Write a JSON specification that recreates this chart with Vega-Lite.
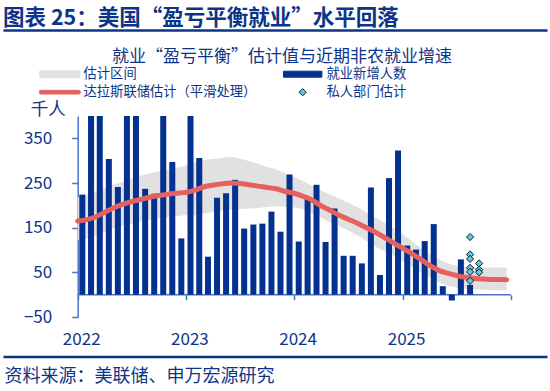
{
  "$schema": "https://vega.github.io/schema/vega-lite/v6.json",
  "padding": {"left": 3, "right": 3, "top": 7, "bottom": 2},
  "background": "white",
  "config": {
    "font": "Noto Sans CJK SC",
    "view": {"stroke": null}
  },
  "title": {"text": "图表 25：美国“盈亏平衡就业”水平回落", "anchor": "start", "fontSize": 21.5, "fontWeight": "bold", "color": "#0C3589", "offset": 1, "frame": "bounds"},
  "width": 544,
  "height": 201,
  "datasets": {
    "band": [
      {"date": "2022-01-01", "upper": 218, "lower": 122},
      {"date": "2022-02-01", "upper": 224, "lower": 126},
      {"date": "2022-03-01", "upper": 231, "lower": 132},
      {"date": "2022-04-01", "upper": 238, "lower": 140},
      {"date": "2022-05-01", "upper": 246, "lower": 148},
      {"date": "2022-06-01", "upper": 253, "lower": 154},
      {"date": "2022-07-01", "upper": 260, "lower": 159},
      {"date": "2022-08-01", "upper": 266, "lower": 164},
      {"date": "2022-09-01", "upper": 271, "lower": 167},
      {"date": "2022-10-01", "upper": 276, "lower": 171},
      {"date": "2022-11-01", "upper": 280, "lower": 174},
      {"date": "2022-12-01", "upper": 284, "lower": 176},
      {"date": "2023-01-01", "upper": 289, "lower": 178},
      {"date": "2023-02-01", "upper": 296, "lower": 178},
      {"date": "2023-03-01", "upper": 301, "lower": 181},
      {"date": "2023-04-01", "upper": 304, "lower": 185},
      {"date": "2023-05-01", "upper": 306, "lower": 188},
      {"date": "2023-06-01", "upper": 308, "lower": 190},
      {"date": "2023-07-01", "upper": 305, "lower": 192},
      {"date": "2023-08-01", "upper": 299, "lower": 193},
      {"date": "2023-09-01", "upper": 293, "lower": 194},
      {"date": "2023-10-01", "upper": 286, "lower": 196},
      {"date": "2023-11-01", "upper": 280, "lower": 198},
      {"date": "2023-12-01", "upper": 272, "lower": 197},
      {"date": "2024-01-01", "upper": 264, "lower": 195},
      {"date": "2024-02-01", "upper": 254, "lower": 191},
      {"date": "2024-03-01", "upper": 244, "lower": 182},
      {"date": "2024-04-01", "upper": 233, "lower": 172},
      {"date": "2024-05-01", "upper": 224, "lower": 162},
      {"date": "2024-06-01", "upper": 215, "lower": 154},
      {"date": "2024-07-01", "upper": 206, "lower": 144},
      {"date": "2024-08-01", "upper": 196, "lower": 133},
      {"date": "2024-09-01", "upper": 184, "lower": 120},
      {"date": "2024-10-01", "upper": 172, "lower": 108},
      {"date": "2024-11-01", "upper": 161, "lower": 97},
      {"date": "2024-12-01", "upper": 148, "lower": 87},
      {"date": "2025-01-01", "upper": 135, "lower": 75},
      {"date": "2025-02-01", "upper": 120, "lower": 62},
      {"date": "2025-03-01", "upper": 105, "lower": 50},
      {"date": "2025-04-01", "upper": 92, "lower": 40},
      {"date": "2025-05-01", "upper": 80, "lower": 28},
      {"date": "2025-06-01", "upper": 71, "lower": 21},
      {"date": "2025-07-01", "upper": 65, "lower": 16},
      {"date": "2025-08-01", "upper": 62, "lower": 13},
      {"date": "2025-09-01", "upper": 61, "lower": 12},
      {"date": "2025-10-01", "upper": 61, "lower": 11},
      {"date": "2025-11-01", "upper": 61, "lower": 10},
      {"date": "2025-12-01", "upper": 61, "lower": 10},
      {"date": "2025-12-18", "upper": 61, "lower": 10}
    ],
    "jobs": [
      {"date": "2022-01-01", "value": 224},
      {"date": "2022-02-01", "value": 710},
      {"date": "2022-03-01", "value": 430},
      {"date": "2022-04-01", "value": 304},
      {"date": "2022-05-01", "value": 241},
      {"date": "2022-06-01", "value": 420},
      {"date": "2022-07-01", "value": 570},
      {"date": "2022-08-01", "value": 237},
      {"date": "2022-09-01", "value": 226},
      {"date": "2022-10-01", "value": 420},
      {"date": "2022-11-01", "value": 297},
      {"date": "2022-12-01", "value": 126},
      {"date": "2023-01-01", "value": 480},
      {"date": "2023-02-01", "value": 306},
      {"date": "2023-03-01", "value": 85},
      {"date": "2023-04-01", "value": 217},
      {"date": "2023-05-01", "value": 227},
      {"date": "2023-06-01", "value": 257},
      {"date": "2023-07-01", "value": 148},
      {"date": "2023-08-01", "value": 157},
      {"date": "2023-09-01", "value": 159},
      {"date": "2023-10-01", "value": 186},
      {"date": "2023-11-01", "value": 141},
      {"date": "2023-12-01", "value": 269},
      {"date": "2024-01-01", "value": 119},
      {"date": "2024-02-01", "value": 217},
      {"date": "2024-03-01", "value": 246},
      {"date": "2024-04-01", "value": 118},
      {"date": "2024-05-01", "value": 193},
      {"date": "2024-06-01", "value": 87},
      {"date": "2024-07-01", "value": 87},
      {"date": "2024-08-01", "value": 70},
      {"date": "2024-09-01", "value": 240},
      {"date": "2024-10-01", "value": 44},
      {"date": "2024-11-01", "value": 261},
      {"date": "2024-12-01", "value": 323},
      {"date": "2025-01-01", "value": 110},
      {"date": "2025-02-01", "value": 101},
      {"date": "2025-03-01", "value": 120},
      {"date": "2025-04-01", "value": 158},
      {"date": "2025-05-01", "value": 19},
      {"date": "2025-06-01", "value": -13},
      {"date": "2025-07-01", "value": 79},
      {"date": "2025-08-01", "value": 22}
    ],
    "dallas": [
      {"date": "2022-01-01", "value": 165},
      {"date": "2022-02-01", "value": 168},
      {"date": "2022-03-01", "value": 174},
      {"date": "2022-04-01", "value": 184},
      {"date": "2022-05-01", "value": 194},
      {"date": "2022-06-01", "value": 202},
      {"date": "2022-07-01", "value": 208},
      {"date": "2022-08-01", "value": 213},
      {"date": "2022-09-01", "value": 218},
      {"date": "2022-10-01", "value": 222},
      {"date": "2022-11-01", "value": 225},
      {"date": "2022-12-01", "value": 227},
      {"date": "2023-01-01", "value": 229},
      {"date": "2023-02-01", "value": 234},
      {"date": "2023-03-01", "value": 241},
      {"date": "2023-04-01", "value": 245},
      {"date": "2023-05-01", "value": 248},
      {"date": "2023-06-01", "value": 250},
      {"date": "2023-07-01", "value": 249},
      {"date": "2023-08-01", "value": 246},
      {"date": "2023-09-01", "value": 243},
      {"date": "2023-10-01", "value": 240},
      {"date": "2023-11-01", "value": 237},
      {"date": "2023-12-01", "value": 231},
      {"date": "2024-01-01", "value": 227},
      {"date": "2024-02-01", "value": 220},
      {"date": "2024-03-01", "value": 212},
      {"date": "2024-04-01", "value": 199},
      {"date": "2024-05-01", "value": 189},
      {"date": "2024-06-01", "value": 178},
      {"date": "2024-07-01", "value": 169},
      {"date": "2024-08-01", "value": 160},
      {"date": "2024-09-01", "value": 150},
      {"date": "2024-10-01", "value": 140},
      {"date": "2024-11-01", "value": 128},
      {"date": "2024-12-01", "value": 116},
      {"date": "2025-01-01", "value": 104},
      {"date": "2025-02-01", "value": 92},
      {"date": "2025-03-01", "value": 80},
      {"date": "2025-04-01", "value": 66},
      {"date": "2025-05-01", "value": 55},
      {"date": "2025-06-01", "value": 48},
      {"date": "2025-07-01", "value": 43},
      {"date": "2025-08-01", "value": 39},
      {"date": "2025-09-01", "value": 36},
      {"date": "2025-10-01", "value": 35},
      {"date": "2025-11-01", "value": 34},
      {"date": "2025-12-01", "value": 34},
      {"date": "2025-12-18", "value": 33.5}
    ],
    "private": [
      {"date": "2025-08-01", "value": 129, "series": "私人部门估计"},
      {"date": "2025-08-01", "value": 90, "series": "私人部门估计"},
      {"date": "2025-08-01", "value": 80, "series": "私人部门估计"},
      {"date": "2025-08-01", "value": 60, "series": "私人部门估计"},
      {"date": "2025-08-01", "value": 51, "series": "私人部门估计"},
      {"date": "2025-08-01", "value": 31, "series": "私人部门估计"},
      {"date": "2025-09-01", "value": 70, "series": "私人部门估计"},
      {"date": "2025-09-01", "value": 56, "series": "私人部门估计"},
      {"date": "2025-09-01", "value": 50, "series": "私人部门估计"}
    ],
    "single": [{}]
  },
  "resolve": {"axis": {"x": "independent"}},
  "layer": [
    {
      "data": {"name": "band"},
      "mark": {"type": "area", "color": "#E1E1E1", "interpolate": "monotone"},
      "encoding": {
        "x": {
          "field": "date", "type": "temporal",
          "scale": {"type": "utc", "domain": [{"year": 2021, "month": 4, "date": 24, "utc": true}, {"year": 2026, "month": 5, "date": 3, "utc": true}]},
          "axis": {
            "values": [{"year": 2022, "month": 1, "date": 1, "utc": true}, {"year": 2023, "month": 1, "date": 1, "utc": true}, {"year": 2024, "month": 1, "date": 1, "utc": true}, {"year": 2025, "month": 1, "date": 1, "utc": true}, {"year": 2026, "month": 1, "date": 1, "utc": true}],
            "labelExpr": "utcyear(datum.value) >= 2026 ? '' : '' + utcyear(datum.value)",
            "domain": false,
            "offset": -22.3,
            "tickSize": 5,
            "labelPadding": 32,
            "labelOffset": 3.5,
            "labelFontSize": 17,
            "labelColor": "#0C3589",
            "tickColor": "#4B73C6",
            "tickWidth": 1.5,
            "grid": false,
            "title": null,
            "labelFlush": false,
            "labelOverlap": false
          }
        },
        "y": {
          "field": "upper", "type": "quantitative",
          "scale": {"domain": [-50, 400], "nice": false, "zero": false},
          "axis": {
            "values": [-50, 50, 150, 250, 350],
            "offset": -74.7,
            "tickSize": 6,
            "labelPadding": 20,
            "labelFontSize": 17,
            "labelColor": "#0C3589",
            "domainColor": "#4B73C6",
            "tickColor": "#4B73C6",
            "domainWidth": 1.5,
            "tickWidth": 1.5,
            "grid": false,
            "title": "千人",
            "titleAngle": 0,
            "titleX": -30,
            "titleY": -7,
            "titleAlign": "center",
            "titleBaseline": "middle",
            "titleFontSize": 17.5,
            "titleFontWeight": "normal",
            "titleColor": "#0C3589"
          }
        },
        "y2": {"field": "lower"}
      }
    },
    {
      "data": {"name": "single"},
      "mark": {"type": "rule", "color": "#4B73C6", "strokeWidth": 1.5},
      "encoding": {
        "x": {
          "datum": {"year": 2022, "month": 1, "date": 1, "utc": true}, "type": "temporal",
          "axis": {
            "orient": "bottom",
            "offset": 39.4,
            "domain": true,
            "domainColor": "#0C3589",
            "domainWidth": 2.5,
            "ticks": false,
            "labels": false,
            "grid": false,
            "title": "资料来源：美联储、申万宏源研究",
            "titleX": 1,
            "titleY": 20,
            "titleAlign": "left",
            "titleAnchor": "start",
            "titleBaseline": "middle",
            "titleFontSize": 18,
            "titleFontWeight": "normal",
            "titleColor": "#0C3589",
            "titleLimit": 1000
          }
        },
        "x2": {"datum": {"year": 2026, "month": 1, "date": 1, "utc": true}},
        "y": {"datum": 0, "type": "quantitative"}
      }
    },
    {
      "data": {"name": "jobs"},
      "mark": {"type": "bar", "color": "#023190", "width": 6, "clip": true},
      "encoding": {
        "x": {"field": "date", "type": "temporal", "timeUnit": "utcyearmonth", "bandPosition": 0.5, "axis": null},
        "y": {"field": "value", "type": "quantitative"}
      }
    },
    {
      "data": {"name": "dallas"},
      "mark": {"type": "line", "color": "#E5605E", "strokeWidth": 5, "interpolate": "monotone", "strokeCap": "round"},
      "encoding": {
        "x": {
          "field": "date", "type": "temporal",
          "axis": {
            "orient": "top",
            "offset": 86,
            "domain": true,
            "domainColor": "#0C3589",
            "domainWidth": 2.5,
            "ticks": false,
            "labels": false,
            "grid": false,
            "title": "就业“盈亏平衡”估计值与近期非农就业增速",
            "titleX": 278.5,
            "titleY": 26,
            "titleAlign": "center",
            "titleBaseline": "middle",
            "titleFontSize": 17,
            "titleFontWeight": "normal",
            "titleColor": "#0C3589",
            "titleLimit": 1000
          }
        },
        "y": {"field": "value", "type": "quantitative"}
      }
    },
    {
      "data": {"name": "private"},
      "mark": {"type": "point", "filled": true, "size": 1600, "strokeWidth": 1, "opacity": 1},
      "encoding": {
        "x": {"field": "date", "type": "temporal", "timeUnit": "utcyearmonth", "bandPosition": 0.5, "axis": null},
        "y": {"field": "value", "type": "quantitative"},
        "fill": {
          "field": "series", "type": "nominal",
          "scale": {"domain": ["估计区间", "达拉斯联储估计（平滑处理）", "就业新增人数", "私人部门估计"], "range": ["#E1E1E1", "#E5605E", "#023190", "#5CC6EA"]},
          "legend": {"title": null, "orient": "none", "legendX": 36.2, "legendY": -50.8, "columns": 2, "columnPadding": 25, "rowPadding": 0, "clipHeight": 18, "symbolSize": 1600, "labelFontSize": 13.3, "labelColor": "#0C3589", "labelOffset": 3.3, "padding": 0, "symbolStrokeWidth": 1, "labelLimit": 0}
        },
        "stroke": {
          "field": "series", "type": "nominal",
          "scale": {"domain": ["估计区间", "达拉斯联储估计（平滑处理）", "就业新增人数", "私人部门估计"], "range": ["#E1E1E1", "#E5605E", "#023190", "#1A1A1A"]},
          "legend": {"title": null, "orient": "none", "legendX": 36.2, "legendY": -50.8, "columns": 2, "columnPadding": 25, "rowPadding": 0, "clipHeight": 18, "symbolSize": 1600, "labelFontSize": 13.3, "labelColor": "#0C3589", "labelOffset": 3.3, "padding": 0, "symbolStrokeWidth": 1, "labelLimit": 0}
        },
        "shape": {
          "field": "series", "type": "nominal",
          "scale": {"domain": ["估计区间", "达拉斯联储估计（平滑处理）", "就业新增人数", "私人部门估计"], "range": ["M-1,-0.175H1V0.175H-1Z", "M-0.95,-0.09H0.95A0.09,0.09 0 0 1 0.95,0.09H-0.95A0.09,0.09 0 0 1 -0.95,-0.09Z", "M-0.96,-0.15H0.96V0.15H-0.96Z", "M0,-0.18L0.18,0L0,0.18L-0.18,0Z"]},
          "legend": {"title": null, "orient": "none", "legendX": 36.2, "legendY": -50.8, "columns": 2, "columnPadding": 25, "rowPadding": 0, "clipHeight": 18, "symbolSize": 1600, "labelFontSize": 13.3, "labelColor": "#0C3589", "labelOffset": 3.3, "padding": 0, "symbolStrokeWidth": 1, "labelLimit": 0}
        }
      }
    }
  ]
}
